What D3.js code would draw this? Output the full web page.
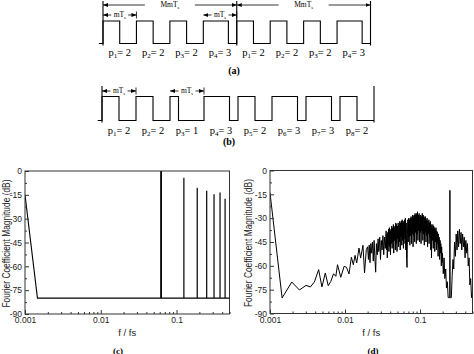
<!DOCTYPE html>
<html>
<head>
<meta charset="utf-8">
<script src="https://cdn.jsdelivr.net/npm/d3@7"></script>
<style>
  body { margin: 0; background: #fff; }
</style>
</head>
<body>
<svg id="chart" width="474" height="354"></svg>
<script>
// ---- data ----
// pulse widths p (in Ts) of each mTs period, m = 4 samples per period
const m = 4;
const pulsesA = [2, 2, 2, 3, 2, 2, 2, 3];
const indexA = [1, 2, 3, 4, 1, 2, 3, 4];
const pulsesB = [2, 2, 1, 3, 2, 3, 3, 2];
const indexB = [1, 2, 3, 4, 5, 6, 7, 8];

// (c) periodic sequence: harmonics and the floor line
const harmFreq = [0.0625, 0.125, 0.1875, 0.25, 0.3125, 0.375, 0.4375];
const harmDb = [0, -4.2, -10.5, -12.4, -14.7, -13.5, -17.5];
const floorFreq = [0.001, 0.00146, 0.5];
const floorDb = [-15, -80, -80];

// (d) randomised sequence spectrum
const specFreq = [
  0.001, 0.00145, 0.00195, 0.00247, 0.00302, 0.00345, 0.0039, 0.00445, 0.00492, 0.00546,
  0.00597, 0.00647, 0.00703, 0.00754, 0.00794, 0.00878, 0.00973, 0.01045, 0.0113, 0.01216,
  0.0129, 0.0136, 0.0143, 0.01535, 0.01614, 0.01734, 0.0182, 0.0192,
  0.0200, 0.0205, 0.0210, 0.0215, 0.0221, 0.0226, 0.0232, 0.0238, 0.0244, 0.0250,
  0.0256, 0.0262, 0.0269, 0.0276, 0.0282, 0.0290, 0.0297, 0.0304, 0.0312, 0.0320,
  0.0328, 0.0336, 0.0344,
  0.0353, 0.0357, 0.0362, 0.0366, 0.0371, 0.0375, 0.0380, 0.0385, 0.0390, 0.0394,
  0.0399, 0.0404, 0.0409, 0.0414, 0.0419, 0.0425, 0.0430, 0.0435, 0.0441, 0.0446,
  0.0452, 0.0457, 0.0463, 0.0469, 0.0475, 0.0480, 0.0486, 0.0493, 0.0499, 0.0505,
  0.0511, 0.0518, 0.0524, 0.0531, 0.0537, 0.0544, 0.0550, 0.0557, 0.0564, 0.0571,
  0.0578, 0.0586, 0.0593, 0.0600, 0.0607, 0.0615, 0.0623, 0.0630, 0.0638, 0.0646,
  0.0654, 0.0662, 0.0671, 0.0679, 0.0687, 0.0696, 0.0705, 0.0713, 0.0722, 0.0731,
  0.0740, 0.0750, 0.0759, 0.0768, 0.0778, 0.0788, 0.0797, 0.0807, 0.0817, 0.0828,
  0.0838, 0.0848, 0.0859, 0.0870, 0.0880, 0.0891, 0.0902, 0.0914, 0.0925, 0.0937,
  0.0948, 0.0960, 0.0972, 0.0984, 0.0996, 0.101, 0.102, 0.103, 0.105, 0.106,
  0.107, 0.109, 0.110, 0.111, 0.113, 0.114, 0.115, 0.117, 0.118, 0.120,
  0.121, 0.123, 0.124, 0.126, 0.127, 0.129, 0.131, 0.132, 0.134, 0.135,
  0.137, 0.139, 0.141, 0.142, 0.144, 0.146, 0.148, 0.150, 0.152, 0.153,
  0.155, 0.157, 0.159, 0.161, 0.163, 0.165, 0.167, 0.169, 0.171, 0.174,
  0.176, 0.178, 0.180, 0.182, 0.185, 0.187, 0.189, 0.192, 0.194, 0.197, 0.199,
  0.204, 0.209, 0.214, 0.220, 0.225, 0.231, 0.237, 0.243, 0.2495, 0.250,
  0.2505, 0.255, 0.261, 0.268, 0.275, 0.281, 0.288, 0.296, 0.303, 0.311,
  0.318, 0.326, 0.335, 0.343, 0.352, 0.360, 0.369, 0.379, 0.388, 0.398,
  0.408, 0.418, 0.428, 0.439, 0.450, 0.461, 0.473, 0.485, 0.497
];
const specDb = [
  -14, -80.2, -70.2, -75.2, -72.3, -73.3, -70.2, -62.4, -73.3, -64.5,
  -72.5, -69.8, -65, -66.6, -59.3, -67.2, -60.3, -60.9, -65.1, -54.6,
  -59.3, -53.4, -58.2, -48.8, -55.1, -47.1, -64.5, -49.8,
  -48, -56, -47, -58, -46, -52, -45, -57, -44, -55,
  -64, -46, -53, -43, -51, -42, -56, -44, -50, -41,
  -53, -42, -49,
  -38, -50, -40, -55, -39, -47, -37, -51, -36, -48,
  -38, -53, -37, -46, -35, -49, -36, -45, -34, -52,
  -36, -44, -35, -50, -33, -46, -34, -51, -35, -43,
  -33, -48, -34, -45, -32, -50, -33, -42, -32, -47,
  -31, -44, -33, -49, -32, -43, -31, -46, -30, -50,
  -33, -56, -61, -40, -31, -45, -30, -42, -31, -47,
  -30, -41, -29, -46, -30, -40, -28, -48, -29, -41,
  -28, -45, -27, -39, -28, -46, -27, -40, -26, -44,
  -28, -38, -27, -45, -29, -39, -28, -46, -29, -38,
  -27, -44, -28, -40, -29, -47, -30, -39, -29, -45,
  -31, -41, -30, -48, -32, -40, -31, -46, -33, -42,
  -32, -50, -34, -55, -36, -44, -34, -49, -35, -43,
  -36, -51, -37, -45, -36, -50, -38, -46, -39, -54,
  -40, -49, -42, -56, -44, -52, -46, -60, -48, -58, -52,
  -65, -55, -68, -62, -74, -70, -80, -80, -80, -12.5,
  -80, -80, -80, -66, -56, -62, -45, -54, -40, -50,
  -38, -48, -37, -46, -39, -50, -40, -48, -42, -55,
  -44, -52, -46, -60, -55, -72, -68, -80, -77
];

const yTicks = [0, -15, -30, -45, -60, -75, -90];
const yMinor = [-7.5, -22.5, -37.5, -52.5, -67.5, -82.5];
const xTicks = [0.001, 0.01, 0.1];
const xTickLabels = ["0.001", "0.01", "0.1"];
const xMinor = [0.002, 0.003, 0.004, 0.005, 0.006, 0.007, 0.008, 0.009,
                0.02, 0.03, 0.04, 0.05, 0.06, 0.07, 0.08, 0.09,
                0.2, 0.3, 0.4, 0.5];

const svg = d3.select("#chart");
svg.append("rect").attr("width", 474).attr("height", 354).attr("fill", "#fff");

const serif = "'Liberation Serif', 'Times New Roman', serif";
const sans = "'Liberation Sans', Arial, sans-serif";

// arrowhead marker
svg.append("defs").append("marker")
  .attr("id", "arr")
  .attr("viewBox", "0 0 10 10")
  .attr("refX", 10).attr("refY", 5)
  .attr("markerWidth", 5).attr("markerHeight", 5)
  .attr("markerUnits", "userSpaceOnUse")
  .attr("orient", "auto")
  .append("path")
  .attr("d", "M0,1 L10,5 L0,9 Z")
  .attr("fill", "#000");

// ---- waveforms (a) and (b) ----
function pulseTrain(pulses) {
  const pts = [[-0.5, 0], [0, 0], [0, 1]];
  pulses.forEach((p, i) => {
    const s = i * m;
    pts.push([s + p, 1], [s + p, 0], [s + m, 0]);
    if (i < pulses.length - 1) pts.push([s + m, 1]);
  });
  return pts;
}

function arrow(g, x, xa, xb, y, gap, main, sub, size) {
  const cx = (x(xa) + x(xb)) / 2;
  g.append("line").attr("x1", cx - gap).attr("x2", x(xa))
    .attr("y1", y).attr("y2", y)
    .attr("stroke", "#000").attr("stroke-width", 0.8)
    .attr("marker-end", "url(#arr)");
  g.append("line").attr("x1", cx + gap).attr("x2", x(xb))
    .attr("y1", y).attr("y2", y)
    .attr("stroke", "#000").attr("stroke-width", 0.8)
    .attr("marker-end", "url(#arr)");
  const t = g.append("text")
    .attr("x", cx).attr("y", y + size * 0.3)
    .attr("text-anchor", "middle")
    .attr("font-family", serif).attr("font-size", size);
  t.append("tspan").text(main);
  t.append("tspan").attr("font-size", size * 0.6).attr("dy", size * 0.25).text(sub);
}

function drawWave(cfg) {
  const g = svg.append("g");
  const n = cfg.pulses.length * m;
  const x = d3.scaleLinear().domain([0, n]).range(cfg.xRange);
  const y = d3.scaleLinear().domain([0, 1]).range([cfg.yLow, cfg.yHigh]);

  g.append("path")
    .attr("d", d3.line().x(d => x(d[0])).y(d => y(d[1]))(pulseTrain(cfg.pulses)))
    .attr("fill", "none").attr("stroke", "#000").attr("stroke-width", 1.1);

  // tall boundary lines
  cfg.bounds.forEach(b => {
    g.append("line").attr("x1", x(b)).attr("x2", x(b))
      .attr("y1", cfg.boundTop).attr("y2", cfg.yLow + 2)
      .attr("stroke", "#000").attr("stroke-width", 1.1);
  });

  // mTs arrows with end bars
  cfg.mArrows.forEach(a => {
    arrow(g, x, a, a + m, cfg.mY, 8.5, "mT", "s", 7.5);
    g.append("line").attr("x1", x(a + m)).attr("x2", x(a + m))
      .attr("y1", cfg.mY - 3.5).attr("y2", cfg.mY + 3.5)
      .attr("stroke", "#000").attr("stroke-width", 0.8);
  });

  // MmTs arrows
  (cfg.bigArrows || []).forEach(a => {
    arrow(g, x, a[0], a[1], cfg.bigY, 25, "MmT", "s", 7.5);
  });

  // p labels
  cfg.pulses.forEach((p, i) => {
    const t = g.append("text")
      .attr("x", x(i * m + m / 2)).attr("y", cfg.labelY)
      .attr("text-anchor", "middle")
      .attr("font-family", serif).attr("font-size", 10.5);
    t.append("tspan").text("p");
    t.append("tspan").attr("font-size", 7).attr("dy", 2).text(cfg.index[i]);
    t.append("tspan").attr("dy", -2).text("= " + p);
  });

  svg.append("text")
    .attr("x", cfg.tagX).attr("y", cfg.tagY)
    .attr("text-anchor", "middle")
    .attr("font-family", serif).attr("font-weight", "bold").attr("font-size", 10)
    .text(cfg.tag);
}

drawWave({
  pulses: pulsesA, index: indexA,
  xRange: [103, 370.5], yLow: 43.5, yHigh: 21,
  bounds: [0, 16, 32], boundTop: 1,
  mArrows: [0, 12], mY: 15,
  bigArrows: [[0, 16], [16, 32]], bigY: 5,
  labelY: 56, tag: "(a)", tagX: 234, tagY: 74
});

drawWave({
  pulses: pulsesB, index: indexB,
  xRange: [102, 374], yLow: 120.5, yHigh: 96.5,
  bounds: [0, 32], boundTop: 86,
  mArrows: [0, 8], mY: 91,
  labelY: 134, tag: "(b)", tagX: 229, tagY: 145
});

// ---- spectra (c) and (d) ----
function drawPanel(cfg) {
  const g = svg.append("g");
  const x = d3.scaleLog().domain([0.001, 0.5]).range(cfg.xRange);
  const y = d3.scaleLinear().domain([-90, 0]).range([cfg.yBottom, cfg.yTop]);

  g.append("clipPath").attr("id", cfg.id)
    .append("rect")
    .attr("x", cfg.xRange[0]).attr("y", cfg.yTop)
    .attr("width", cfg.xRange[1] - cfg.xRange[0]).attr("height", cfg.yBottom - cfg.yTop);

  cfg.draw(g.append("g").attr("clip-path", `url(#${cfg.id})`), x, y);

  // frame
  g.append("rect")
    .attr("x", cfg.xRange[0]).attr("y", cfg.yTop)
    .attr("width", cfg.xRange[1] - cfg.xRange[0]).attr("height", cfg.yBottom - cfg.yTop)
    .attr("fill", "none").attr("stroke", "#333").attr("stroke-width", 1);

  g.append("g")
    .attr("transform", `translate(${cfg.xRange[0]},0)`)
    .call(d3.axisLeft(y).tickValues(yTicks).tickSize(-4).tickPadding(3)
      .tickFormat(d => String(d)));
  g.append("g")
    .attr("transform", `translate(${cfg.xRange[0]},0)`)
    .call(d3.axisLeft(y).tickValues(yMinor).tickSize(-2).tickFormat(""));

  const xAxis = g.append("g")
    .attr("transform", `translate(0,${cfg.yBottom})`)
    .call(d3.axisBottom(x).tickValues(xTicks).tickSize(-4).tickPadding(3)
      .tickFormat((d, i) => xTickLabels[i]));
  g.append("g")
    .attr("transform", `translate(0,${cfg.yBottom})`)
    .call(d3.axisBottom(x).tickValues(xMinor).tickSize(-2).tickFormat(""));

  g.selectAll(".domain").remove();
  g.selectAll(".tick line").attr("stroke", "#333");
  g.selectAll(".tick text")
    .attr("font-family", sans).attr("font-size", 8.5).attr("fill", "#222");
  xAxis.selectAll(".tick text").attr("dy", "0.75em");

  g.append("text")
    .attr("transform", `translate(${cfg.titleX},${(cfg.yTop + cfg.yBottom) / 2 + 1}) rotate(-90)`)
    .attr("text-anchor", "middle").attr("dominant-baseline", "central")
    .attr("font-family", sans).attr("font-size", 10.5).attr("fill", "#222")
    .attr("textLength", 128).attr("lengthAdjust", "spacingAndGlyphs")
    .text("Fourier Coefficient Magnitude (dB)");

  g.append("text")
    .attr("x", (cfg.xRange[0] + cfg.xRange[1]) / 2).attr("y", 336)
    .attr("text-anchor", "middle")
    .attr("font-family", sans).attr("font-size", 9.5).attr("fill", "#222")
    .text("f / fs");

  svg.append("text")
    .attr("x", cfg.tagX).attr("y", 353.5)
    .attr("text-anchor", "middle")
    .attr("font-family", serif).attr("font-weight", "bold").attr("font-size", 9)
    .text(cfg.tag);
}

drawPanel({
  id: "clipC", xRange: [25, 229.5], yTop: 171, yBottom: 314, titleX: 6, tag: "(c)", tagX: 118,
  draw: (g, x, y) => {
    const pts = floorFreq.map((f, i) => [f, floorDb[i]]);
    g.append("path")
      .attr("d", d3.line().x(d => x(d[0])).y(d => y(d[1]))(pts))
      .attr("fill", "none").attr("stroke", "#000").attr("stroke-width", 1.1);
    g.selectAll(".harm").data(harmFreq).join("line")
      .attr("x1", d => x(d)).attr("x2", d => x(d))
      .attr("y1", y(-80)).attr("y2", (d, i) => y(harmDb[i]))
      .attr("stroke", "#000").attr("stroke-width", (d, i) => i === 0 ? 1.8 : 1.2);
  }
});

drawPanel({
  id: "clipD", xRange: [270, 472.5], yTop: 170.5, yBottom: 313.5, titleX: 248, tag: "(d)", tagX: 373,
  draw: (g, x, y) => {
    const pts = specFreq.map((f, i) => [f, specDb[i]]);
    g.append("path")
      .attr("d", d3.line().x(d => x(d[0])).y(d => y(d[1]))(pts))
      .attr("fill", "none").attr("stroke", "#000").attr("stroke-width", 1)
      .attr("stroke-linejoin", "round");
  }
});
</script>
</body>
</html>
